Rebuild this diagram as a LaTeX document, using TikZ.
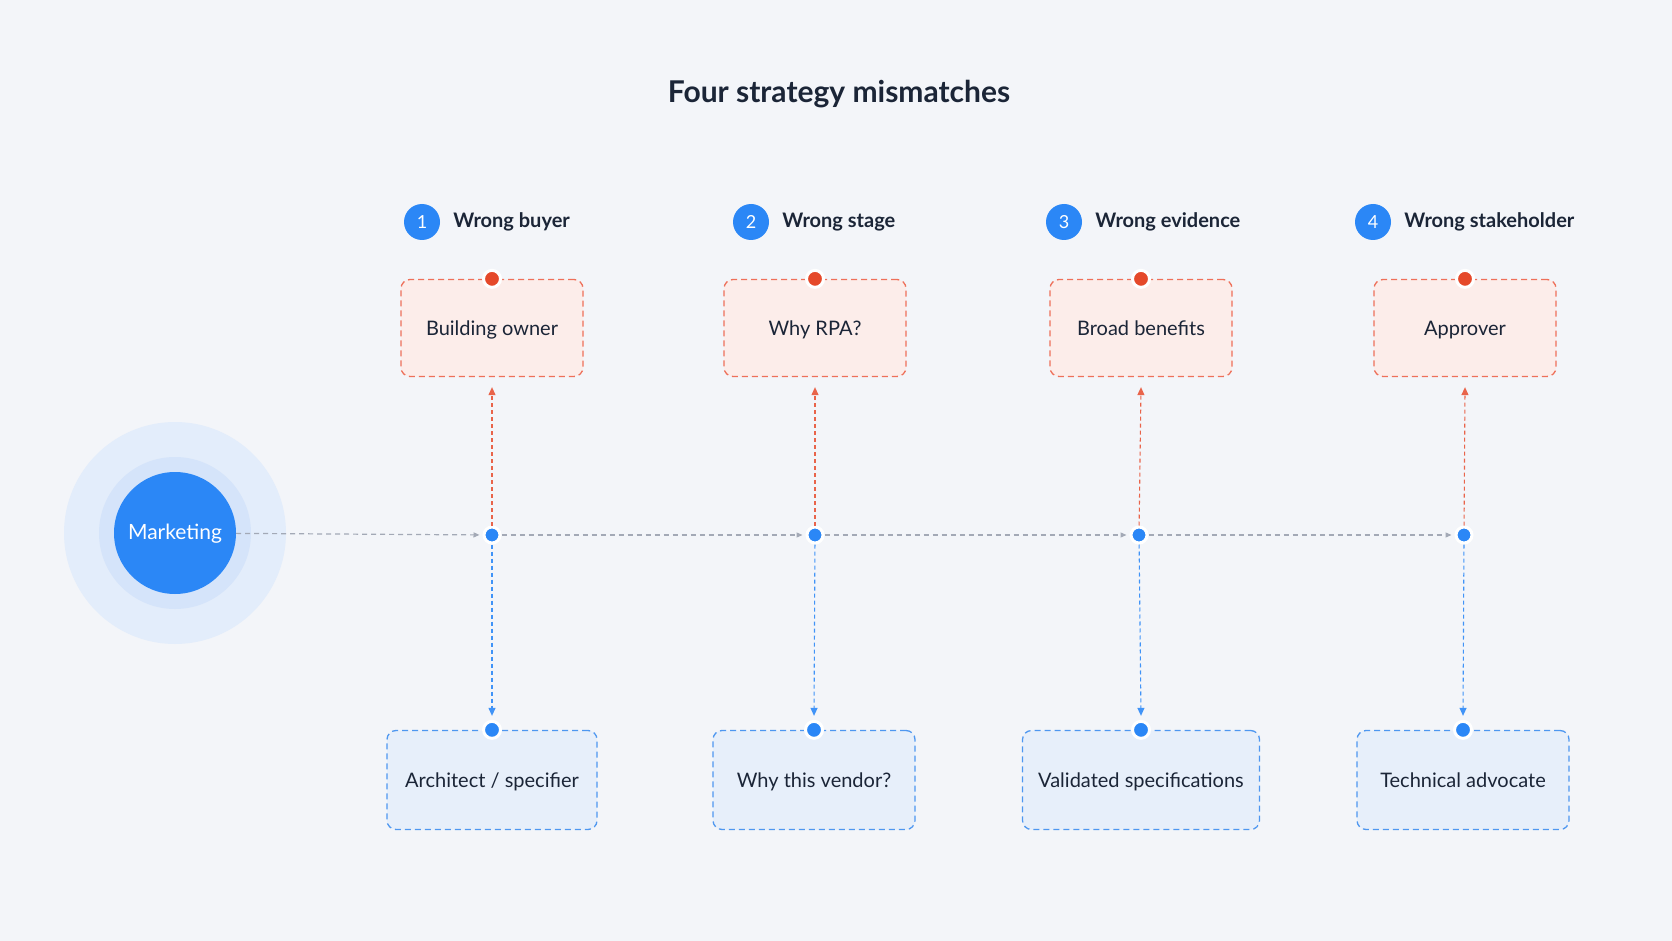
\documentclass[tikz,border=0pt]{standalone}
\usepackage{fontspec}
\setmainfont{Lato}
\usetikzlibrary{positioning,arrows.meta}
\definecolor{bgc}{HTML}{F3F5F9}
\definecolor{ink}{HTML}{1B2537}
\definecolor{mkblue}{HTML}{2B87F6}
\definecolor{dotred}{HTML}{E5492A}
\definecolor{redline}{HTML}{EE705A}
\definecolor{redfill}{HTML}{FCEDEA}
\definecolor{blueline}{HTML}{4E97F0}
\definecolor{bluefill}{HTML}{E7EFFA}
\definecolor{axisgray}{HTML}{A3A9B6}
\definecolor{haloout}{HTML}{E3EDFB}
\definecolor{haloin}{HTML}{D5E4FA}
\begin{document}
\begin{tikzpicture}[x=1pt, y=-1pt,
    redbox/.style={draw=redline, fill=redfill, dash pattern=on 6pt off 4pt, line width=1.3pt,
      rounded corners=9pt, minimum width=182pt, minimum height=97pt, text=ink,
      text height=16pt, text depth=2pt, font=\fontsize{20}{24}\selectfont},
    bluebox/.style={draw=blueline, fill=bluefill, dash pattern=on 6pt off 4pt, line width=1.3pt,
      rounded corners=9pt, minimum height=99pt, text=ink,
      text height=16pt, text depth=2pt, font=\fontsize{20}{24}\selectfont},
    reddot/.style={circle, fill=dotred, draw=white, line width=3pt, minimum size=17pt, inner sep=0pt},
    bluedot/.style={circle, fill=mkblue, draw=white, line width=3pt, minimum size=17pt, inner sep=0pt},
    joint/.style={circle, fill=mkblue, draw=white, line width=3pt, minimum size=16pt, inner sep=0pt},
    badge/.style={circle, fill=mkblue, text=white, minimum size=36pt, inner sep=0pt,
      font=\fontsize{18}{20}\selectfont},
    head/.style={text=ink, inner sep=1pt, font=\bfseries\fontsize{20}{23}\selectfont},
    uparrow/.style={draw=dotred!85, dash pattern=on 4pt off 3pt, line width=1.1pt,
      -{Triangle[length=8pt,width=7pt]}},
    downarrow/.style={draw=mkblue!90, dash pattern=on 4pt off 3pt, line width=1.1pt,
      -{Triangle[length=8pt,width=7pt]}},
    axis/.style={draw=axisgray, dash pattern=on 5pt off 4pt, line width=1.2pt,
      -{Triangle[length=6pt,width=5pt]}, shorten >=3pt}]
  \fill [bgc] (0, 0) rectangle (1672, 941);
  \useasboundingbox (0, 0) rectangle (1672, 941);
  % title
  \node [text=ink, font=\bfseries\fontsize{30}{35}\selectfont] (title) at (839, 94) {Four strategy mismatches};
  % marketing hub
  \fill [haloout] (175, 533) circle (111);
  \fill [haloin] (175, 533) circle (76);
  \node [circle, fill=mkblue, minimum size=122pt, text=white, text height=15pt, text depth=3pt,
    font=\fontsize{21}{24}\selectfont] (mk) at (175, 533) {Marketing};
  % column headings
  \node [badge] (n1) at (422, 222) {1};
  \node [head, right=12pt of n1] (h1) {Wrong buyer};
  \node [badge] (n2) at (751, 222) {2};
  \node [head, right=12pt of n2] (h2) {Wrong stage};
  \node [badge] (n3) at (1064, 222) {3};
  \node [head, right=12pt of n3] (h3) {Wrong evidence};
  \node [badge] (n4) at (1373, 222) {4};
  \node [head, right=12pt of n4] (h4) {Wrong stakeholder};
  % mismatched targets
  \node [redbox] (t1) at (492, 328) {Building owner};
  \node [redbox] (t2) at (815, 328) {Why RPA?};
  \node [redbox] (t3) at (1141, 328) {Broad benefits};
  \node [redbox] (t4) at (1465, 328) {Approver};
  % intended targets
  \node [bluebox, minimum width=210pt] (b1) at (492, 780) {Architect / specifier};
  \node [bluebox, minimum width=202pt] (b2) at (814, 780) {Why this vendor?};
  \node [bluebox, minimum width=237pt] (b3) at (1141, 780) {Validated specifications};
  \node [bluebox, minimum width=212pt] (b4) at (1463, 780) {Technical advocate};
  % junctions on the axis
  \node [joint] (j1) at (492, 535) {};
  \node [joint] (j2) at (815, 535) {};
  \node [joint] (j3) at (1139, 535) {};
  \node [joint] (j4) at (1464, 535) {};
  \draw [axis] (mk) -- (j1);
  \draw [axis] (j1) -- (j2);
  \draw [axis] (j2) -- (j3);
  \draw [axis] (j3) -- (j4);
  % dots on the boxes
  \node [reddot] (rd1) at (t1.north) {};
  \node [reddot] (rd2) at (t2.north) {};
  \node [reddot] (rd3) at (t3.north) {};
  \node [reddot] (rd4) at (t4.north) {};
  \node [bluedot] (bd1) at (b1.north) {};
  \node [bluedot] (bd2) at (b2.north) {};
  \node [bluedot] (bd3) at (b3.north) {};
  \node [bluedot] (bd4) at (b4.north) {};
  % branches
  \draw [uparrow] (j1) -- ([yshift=-10pt]t1.south);
  \draw [uparrow] (j2) -- ([yshift=-10pt]t2.south);
  \draw [uparrow] (j3) -- ([yshift=-10pt]t3.south);
  \draw [uparrow] (j4) -- ([yshift=-10pt]t4.south);
  \draw [downarrow] (j1) -- ([yshift=4pt]bd1.north);
  \draw [downarrow] (j2) -- ([yshift=4pt]bd2.north);
  \draw [downarrow] (j3) -- ([yshift=4pt]bd3.north);
  \draw [downarrow] (j4) -- ([yshift=4pt]bd4.north);
\end{tikzpicture}
\end{document}
